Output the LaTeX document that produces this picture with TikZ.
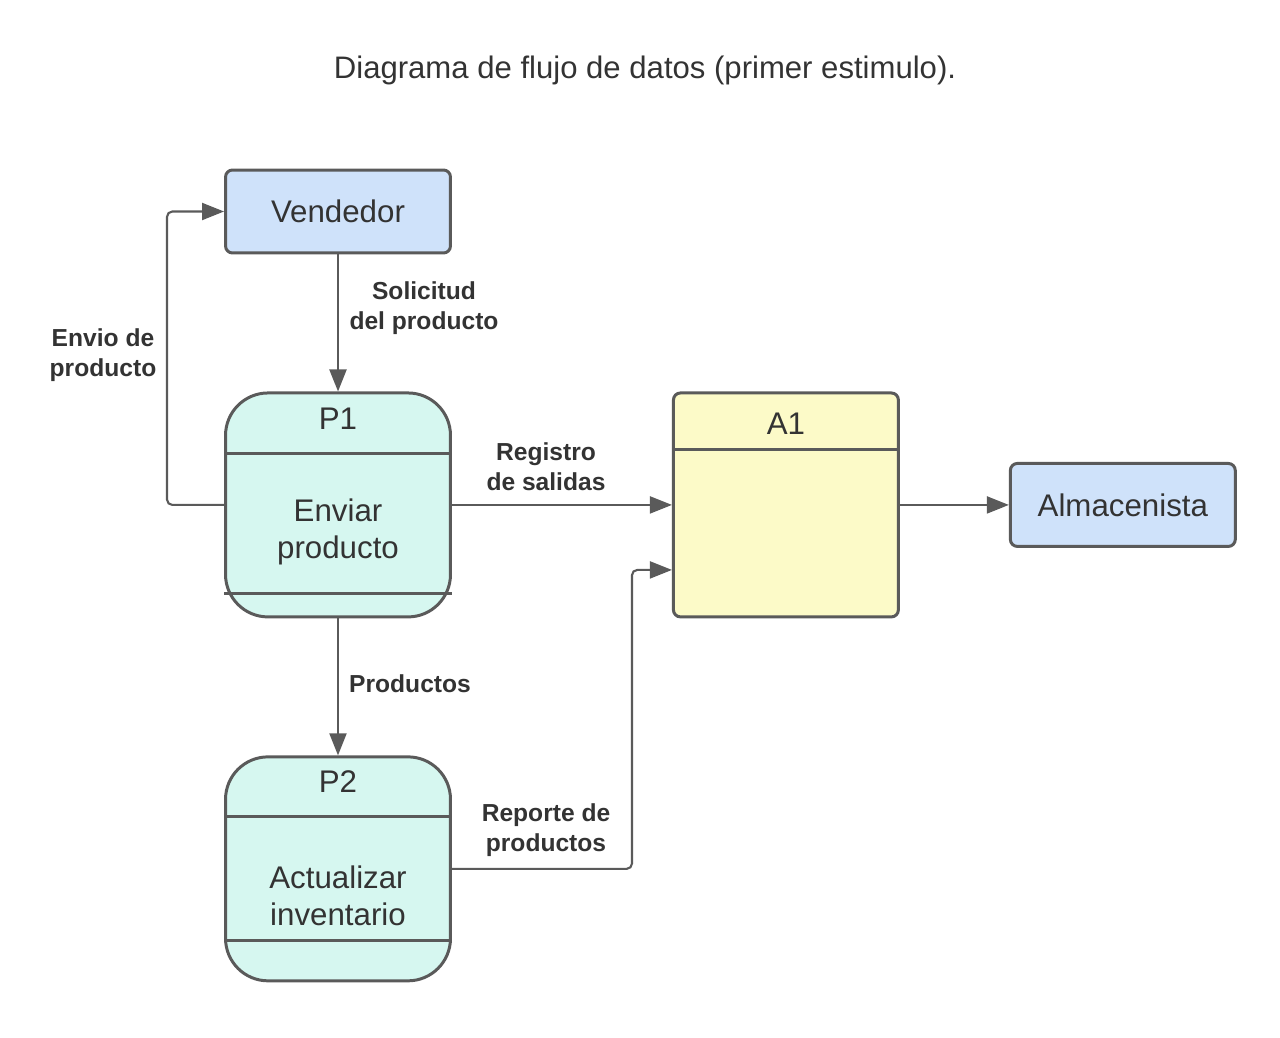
\documentclass[tikz,border=0pt]{standalone}
\usepackage{fontspec}
\setmainfont{Liberation Sans}
\usepackage{xcolor}
\usepackage{tikz}
\usetikzlibrary{arrows.meta,positioning,calc}
\definecolor{dfdline}{HTML}{5A5A5A}
\definecolor{dfdtext}{HTML}{333333}
\definecolor{dfdblue}{HTML}{CFE2FA}
\definecolor{dfdmint}{HTML}{D6F7F0}
\definecolor{dfdyellow}{HTML}{FCFAC8}
\tikzset{
  flowarrow/.style={-{Triangle[length=4.4mm, width=3.4mm]}, line width=1.2pt, draw=dfdline},
  entity/.style={draw=dfdline, line width=1.7pt, rounded corners=4pt, fill=dfdblue,
    minimum width=4.5cm, minimum height=1.66cm, text=dfdtext,
    font=\fontsize{17.8}{21.5}\selectfont},
  process/.style={draw=dfdline, line width=1.7pt, rounded corners=0.85cm, fill=dfdmint,
    minimum width=4.5cm, minimum height=4.48cm},
  store/.style={draw=dfdline, line width=1.7pt, rounded corners=4pt, fill=dfdyellow,
    minimum width=4.5cm, minimum height=4.48cm},
  divider/.style={draw=dfdline, line width=1.7pt},
  boxtext/.style={align=center, text=dfdtext, inner sep=1pt,
    font=\fontsize{17.8}{21.5}\selectfont},
  flowlabel/.style={align=center, text=dfdtext, inner sep=1pt,
    font=\bfseries\fontsize{14}{17}\selectfont},
  title/.style={text=dfdtext, font=\fontsize{17.7}{21}\selectfont}
}

\begin{document}
\begin{tikzpicture}[x=0.02cm, y=-0.02cm]
        \useasboundingbox (0,0) rectangle (1280,1037);

        \node[title] (ttl) at (645,70) {Diagrama de flujo de datos (primer estimulo).};

        \node[entity] (vendedor) at (338,211.5) {Vendedor};
        \node[process, below=2.74cm of vendedor] (p1) {};
        \node[process, below=2.74cm of p1] (p2) {};
        \node[store, right=4.4cm of p1] (a1) {};
        \node[entity, right=2.18cm of a1] (almacenista) {Almacenista};

        % process and store contents
        \node[boxtext] (p1id) at ($(p1.north)+(0,27)$) {P1};
        \node[boxtext] (p1txt) at ($(p1.center)+(0,27)$) {Enviar\\producto};
        \draw[divider] ($(p1.north west)+(0,62)$) -- ($(p1.north east)+(0,62)$);
        \draw[divider] ($(p1.south west)+(0,-25)$) -- ($(p1.south east)+(0,-25)$);

        \node[boxtext] (p2id) at ($(p2.north)+(0,26)$) {P2};
        \node[boxtext] (p2txt) at ($(p2.center)+(0,27)$) {Actualizar\\inventario};
        \draw[divider] ($(p2.north west)+(0,61)$) -- ($(p2.north east)+(0,61)$);
        \draw[divider] ($(p2.south west)+(0,-42)$) -- ($(p2.south east)+(0,-42)$);

        \node[boxtext] (a1id) at ($(a1.north)+(0,32)$) {A1};
        \draw[divider] ($(a1.north west)+(0,58)$) -- ($(a1.north east)+(0,58)$);

        \coordinate (a1in) at ($(a1.west)+(0,65)$);

        % flows
        \draw[flowarrow] (vendedor) -- (p1);
        \draw[flowarrow, rounded corners=3pt] (p1.west) -- ++(-57,0) |- (vendedor.west);
        \draw[flowarrow] (p1.east) -- (p1.east -| a1.west);
        \draw[flowarrow] (p1) -- (p2);
        \draw[flowarrow, rounded corners=3pt] (p2.east) -- ++(180,0) |- (a1in);
        \draw[flowarrow] (a1.east) -- (almacenista.west);

        \node[flowlabel] (lsol) at (424,308) {Solicitud\\del producto};
        \node[flowlabel] (lenv) at (103,355) {Envio de\\producto};
        \node[flowlabel] (lreg) at (546,467) {Registro\\de salidas};
        \node[flowlabel] (lprod) at (410,684) {Productos};
        \node[flowlabel] (lrep) at (546,830) {Reporte de\\productos};
    \end{tikzpicture}
\end{document}
